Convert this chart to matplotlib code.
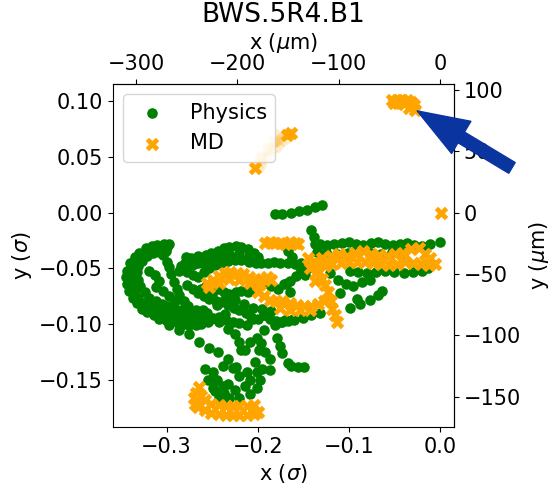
import numpy as np
import matplotlib
matplotlib.use("Agg")
import matplotlib.pyplot as plt

plt.rcParams.update({"font.size": 15, "font.family": "DejaVu Sans"})

# beam size conversion (um per sigma)
SIG_X = 900.0
SIG_Y = 910.0

# Physics trajectory (in sigma units)
phys_x = [
    # left loop, outer
    -0.297, -0.303, -0.310, -0.316, -0.323, -0.330, -0.335, -0.340, -0.343, -0.344, -0.343, -0.341, -0.337,
    -0.333, -0.327, -0.321, -0.314, -0.308, -0.301, -0.295, -0.288, -0.281, -0.275, -0.268, -0.262, -0.255,
    # left loop, middle
    -0.300, -0.312, -0.322, -0.330, -0.336, -0.338, -0.337, -0.335, -0.331, -0.325, -0.317, -0.310, -0.302,
    -0.294, -0.286, -0.278, -0.270, -0.262,
    # left loop, inner
    -0.301, -0.308, -0.315, -0.322, -0.327, -0.331, -0.332, -0.331, -0.329, -0.324, -0.319, -0.312, -0.305,
    -0.299, -0.291, -0.284, -0.276, -0.268, -0.260,
    # right arm of loop
    -0.304, -0.300, -0.297, -0.295, -0.292, -0.289, -0.286, -0.281, -0.276,
    -0.319, -0.313, -0.308, -0.312, -0.304, -0.297, -0.291,
    # loop fill
    -0.338, -0.336, -0.318, -0.310, -0.284, -0.279, -0.272, -0.266, -0.255, -0.248, -0.240, -0.232,
    -0.285, -0.278, -0.262, -0.256, -0.249, -0.242, -0.236,
    -0.260, -0.250, -0.240, -0.230, -0.220, -0.210, -0.200, -0.270, -0.262, -0.250,
    -0.245, -0.235, -0.225, -0.215, -0.205, -0.195, -0.185,
    # middle top
    -0.280, -0.273, -0.265, -0.257, -0.251, -0.244, -0.237, -0.231, -0.224, -0.218, -0.211, -0.204,
    # middle
    -0.286, -0.278, -0.271, -0.265, -0.259, -0.253, -0.247, -0.240, -0.233, -0.225, -0.218, -0.210, -0.202,
    -0.196, -0.189, -0.182, -0.175, -0.167, -0.159, -0.152,
    -0.278, -0.271, -0.266, -0.259, -0.253, -0.246, -0.240, -0.233, -0.226, -0.220, -0.213, -0.207, -0.200,
    -0.193, -0.187, -0.180, -0.174, -0.167, -0.160,
    -0.258, -0.251, -0.243, -0.235, -0.227, -0.220, -0.212,
    -0.264, -0.257, -0.251, -0.244, -0.237, -0.231, -0.224, -0.218, -0.211, -0.204, -0.198, -0.191, -0.185,
    -0.178, -0.171, -0.165, -0.158, -0.152, -0.145, -0.141,
    -0.167, -0.162, -0.154, -0.148, -0.168, -0.165,
    # top straight segment
    -0.181, -0.173, -0.164, -0.155, -0.146, -0.137, -0.130,
    # vertical spur
    -0.141, -0.138, -0.137, -0.135,
    # upper right line
    -0.132, -0.124, -0.116, -0.108, -0.100, -0.092, -0.084, -0.076, -0.068, -0.060, -0.052, -0.044, -0.036,
    -0.028, -0.020, -0.011, 0.000,
    -0.125, -0.113, -0.101, -0.089, -0.077, -0.065, -0.053, -0.041,
    # lower right line
    -0.099, -0.090, -0.080, -0.070, -0.060, -0.050, -0.040, -0.030, -0.020, -0.013, -0.009,
    # descending diagonal
    -0.170, -0.161, -0.150, -0.141, -0.132, -0.099, -0.088, -0.077, -0.068, -0.064,
    -0.121, -0.112, -0.103, -0.095, -0.086, -0.077, -0.110, -0.091,
    # lower branches
    -0.308, -0.297, -0.286, -0.275, -0.264, -0.253, -0.244,
    -0.242, -0.233, -0.225, -0.220, -0.218,
    -0.258, -0.249, -0.238, -0.233, -0.227, -0.220, -0.212, -0.209, -0.201, -0.195, -0.187, -0.249,
    -0.242, -0.231, -0.220, -0.209, -0.201, -0.198, -0.238, -0.245, -0.255, -0.247, -0.225, -0.214,
    -0.205, -0.192, -0.181, -0.173, -0.201, -0.196, -0.192, -0.187, -0.179, -0.176, -0.173, -0.167,
    -0.163, -0.156, -0.149, -0.193, -0.199, -0.203, -0.209, -0.214, -0.224, -0.233, -0.237,
]
phys_y = [
    -0.028, -0.028, -0.029, -0.030, -0.032, -0.036, -0.040, -0.045, -0.052, -0.058, -0.064, -0.070, -0.076,
    -0.081, -0.086, -0.089, -0.092, -0.094, -0.096, -0.097, -0.099, -0.100, -0.101, -0.101, -0.100, -0.098,
    -0.031, -0.032, -0.035, -0.040, -0.047, -0.055, -0.063, -0.070, -0.076, -0.081, -0.085, -0.088, -0.090,
    -0.092, -0.093, -0.094, -0.094, -0.093,
    -0.034, -0.035, -0.036, -0.039, -0.043, -0.048, -0.053, -0.060, -0.066, -0.071, -0.076, -0.079, -0.082,
    -0.084, -0.086, -0.087, -0.087, -0.087, -0.087,
    -0.038, -0.044, -0.049, -0.055, -0.062, -0.068, -0.074, -0.079, -0.084,
    -0.052, -0.056, -0.061, -0.067, -0.070, -0.075, -0.079,
    -0.056, -0.068, -0.084, -0.088, -0.048, -0.040, -0.047, -0.045, -0.044, -0.040, -0.039, -0.038,
    -0.093, -0.092, -0.093, -0.090, -0.094, -0.093, -0.091,
    -0.045, -0.043, -0.040, -0.038, -0.037, -0.039, -0.040, -0.046, -0.068, -0.073,
    -0.083, -0.076, -0.078, -0.082, -0.085, -0.086, -0.088,
    -0.045, -0.041, -0.039, -0.038, -0.036, -0.034, -0.032, -0.031, -0.030, -0.031, -0.033, -0.036,
    -0.052, -0.053, -0.056, -0.058, -0.053, -0.050, -0.047, -0.045, -0.043, -0.042, -0.042, -0.044, -0.045,
    -0.045, -0.045, -0.044, -0.045, -0.045, -0.046, -0.045,
    -0.065, -0.068, -0.072, -0.075, -0.077, -0.079, -0.080, -0.083, -0.085, -0.087, -0.090, -0.093, -0.095,
    -0.092, -0.095, -0.097, -0.098, -0.097, -0.096,
    -0.092, -0.095, -0.096, -0.096, -0.098, -0.099, -0.101,
    -0.070, -0.066, -0.064, -0.068, -0.071, -0.073, -0.071, -0.070, -0.071, -0.068, -0.065, -0.063, -0.066,
    -0.068, -0.064, -0.061, -0.057, -0.053, -0.050, -0.045,
    -0.034, -0.040, -0.049, -0.056, -0.063, -0.071,
    -0.001, -0.001, 0.000, 0.001, 0.002, 0.005, 0.007,
    -0.016, -0.022, -0.028, -0.035,
    -0.028, -0.029, -0.028, -0.027, -0.026, -0.028, -0.029, -0.027, -0.026, -0.028, -0.029, -0.028, -0.027,
    -0.029, -0.030, -0.028, -0.026,
    -0.035, -0.037, -0.036, -0.034, -0.036, -0.037, -0.035, -0.036,
    -0.052, -0.053, -0.054, -0.053, -0.052, -0.053, -0.054, -0.053, -0.052, -0.050, -0.046,
    -0.096, -0.095, -0.094, -0.092, -0.090, -0.085, -0.082, -0.078, -0.074, -0.070,
    -0.054, -0.060, -0.064, -0.066, -0.062, -0.060, -0.072, -0.077,
    -0.095, -0.101, -0.105, -0.109, -0.116, -0.121, -0.125,
    -0.098, -0.104, -0.109, -0.116, -0.123,
    -0.140, -0.143, -0.137, -0.131, -0.139, -0.146, -0.143, -0.150, -0.143, -0.140, -0.141, -0.157,
    -0.166, -0.166, -0.166, -0.162, -0.157, -0.150, -0.155, -0.150, -0.150, -0.160, -0.159, -0.155,
    -0.095, -0.092, -0.101, -0.098, -0.112, -0.117, -0.125, -0.131, -0.112, -0.119, -0.126, -0.135,
    -0.137, -0.138, -0.138, -0.105, -0.123, -0.134, -0.116, -0.123, -0.138, -0.153, -0.161,
]

# MD trajectory (in sigma units)
md_x = [
    # top right cluster
    -0.053, -0.047, -0.042, -0.036, -0.032, -0.029, -0.027, -0.034, -0.040, -0.046, -0.051,
    # isolated point at origin
    0.001,
    # top left segment ends
    -0.203, -0.168, -0.163,
    # band at y ~ -0.027
    -0.192, -0.187, -0.181, -0.176, -0.170, -0.165, -0.159, -0.156,
    # middle band
    -0.256, -0.249, -0.243, -0.236, -0.230, -0.223, -0.216, -0.210, -0.203, -0.197, -0.190, -0.185,
    -0.253, -0.242, -0.231, -0.220, -0.209, -0.198,
    # lower band
    -0.200, -0.193, -0.187, -0.180, -0.173, -0.165, -0.157, -0.149, -0.142, -0.134, -0.127,
    -0.176, -0.165, -0.154, -0.143,
    # vertical streak
    -0.145, -0.140, -0.143, -0.134, -0.137, -0.130, -0.126, -0.123, -0.120, -0.118, -0.115, -0.113,
    # right band
    -0.137, -0.129, -0.120, -0.111, -0.102, -0.093, -0.085, -0.076, -0.067, -0.058, -0.049, -0.041,
    -0.032, -0.023, -0.016, -0.011,
    -0.126, -0.118, -0.109, -0.100, -0.091, -0.082, -0.074, -0.065, -0.056, -0.047, -0.038, -0.030,
    -0.021, -0.012, -0.005,
    # bottom hook
    -0.264, -0.268, -0.270, -0.269, -0.265, -0.258, -0.251, -0.243, -0.235, -0.227, -0.220, -0.212,
    -0.204, -0.200, -0.262, -0.258, -0.251, -0.243, -0.235, -0.227, -0.220, -0.212, -0.204,
]
md_y = [
    0.1005, 0.101, 0.101, 0.1005, 0.0987, 0.096, 0.092, 0.094, 0.097, 0.098, 0.098,
    0.000,
    0.040, 0.069, 0.071,
    -0.027, -0.026, -0.027, -0.027, -0.028, -0.026, -0.027, -0.028,
    -0.063, -0.060, -0.057, -0.054, -0.053, -0.054, -0.055, -0.058, -0.059, -0.060, -0.058, -0.060,
    -0.067, -0.063, -0.059, -0.060, -0.063, -0.064,
    -0.071, -0.075, -0.078, -0.079, -0.079, -0.081, -0.083, -0.084, -0.084, -0.082, -0.079,
    -0.085, -0.087, -0.087, -0.087,
    -0.041, -0.045, -0.050, -0.052, -0.061, -0.059, -0.065, -0.071, -0.079, -0.086, -0.092, -0.098,
    -0.0445, -0.041, -0.039, -0.037, -0.039, -0.036, -0.034, -0.037, -0.038, -0.039, -0.037, -0.036,
    -0.033, -0.032, -0.037, -0.041,
    -0.048, -0.046, -0.045, -0.0445, -0.044, -0.0445, -0.045, -0.046, -0.047, -0.046, -0.0445, -0.045,
    -0.046, -0.047, -0.046,
    -0.156, -0.161, -0.166, -0.171, -0.174, -0.177, -0.179, -0.180, -0.181, -0.181, -0.181, -0.181,
    -0.180, -0.178, -0.164, -0.168, -0.171, -0.172, -0.173, -0.173, -0.173, -0.173, -0.172,
]

# faint MD points (jump between the two top-left ends)
md_faint_x = [-0.200, -0.198, -0.195, -0.191, -0.188, -0.185, -0.181, -0.178, -0.175, -0.171, -0.196, -0.189, -0.182, -0.176]
md_faint_y = [0.043, 0.045, 0.049, 0.051, 0.055, 0.058, 0.060, 0.063, 0.065, 0.067, 0.050, 0.057, 0.064, 0.069]

fig, ax = plt.subplots(figsize=(5.53, 4.86), dpi=100)
fig.subplots_adjust(left=0.204, right=0.821, bottom=0.121, top=0.827)

ax.scatter(phys_x, phys_y, s=58, c="green", marker="o", linewidths=0, label="Physics")
ax.scatter(md_faint_x, md_faint_y, s=95, c="orange", marker="X", linewidths=0, alpha=0.2)
ax.scatter(md_x, md_y, s=95, c="orange", marker="X", linewidths=0, label="MD")

ax.set_xlim(-0.359, 0.0154)
ax.set_ylim(-0.192, 0.115)
ax.set_xticks([-0.3, -0.2, -0.1, 0.0])
ax.set_yticks([-0.15, -0.10, -0.05, 0.00, 0.05, 0.10])
ax.set_xlabel(r"x ($\sigma$)")
ax.set_ylabel(r"y ($\sigma$)")

secx = ax.secondary_xaxis("top", functions=(lambda v: v * SIG_X, lambda v: v / SIG_X))
secx.set_xticks([-300, -200, -100, 0])
secx.set_xlabel(r"x ($\mu$m)")
secy = ax.secondary_yaxis("right", functions=(lambda v: v * SIG_Y, lambda v: v / SIG_Y))
secy.set_yticks([-150, -100, -50, 0, 50, 100])
secy.set_ylabel(r"y ($\mu$m)")

ax.set_title("BWS.5R4.B1", fontsize=19)
ax.legend(loc="upper left", fontsize=15)

# arrow pointing at the MD cluster
ax.annotate("", xy=(-0.025, 0.091), xytext=(0.079, 0.040),
            arrowprops=dict(arrowstyle="simple,head_width=27,head_length=37,tail_width=9",
                            mutation_scale=1, color="#0a34a0", shrinkA=0, shrinkB=0),
            annotation_clip=False, zorder=10)

fig.savefig("out.png", dpi=100)
